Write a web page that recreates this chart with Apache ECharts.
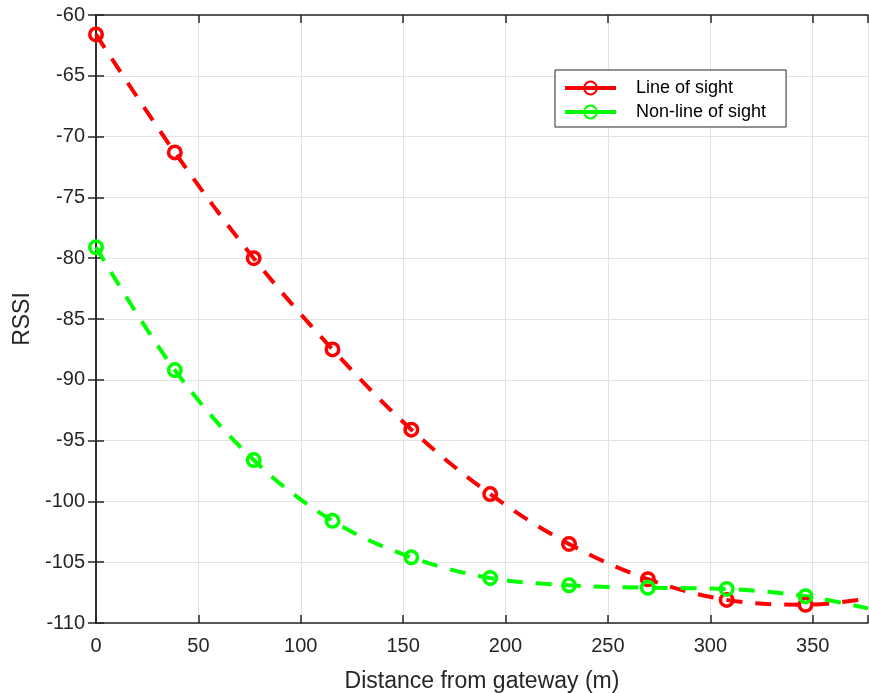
<!DOCTYPE html>
<html><head><meta charset="utf-8">
<script src="https://cdn.jsdelivr.net/npm/echarts@6/dist/echarts.min.js"></script>
<style>html,body{margin:0;padding:0;background:#fff}#c{width:869px;height:693px}</style>
</head><body><div id="c"></div>
<script>
const distances = [0, 38.5, 77, 115.5, 154, 192.5, 231, 269.5, 308, 346.5];
const losRssi = [-61.6, -71.3, -80.0, -87.5, -94.1, -99.4, -103.5, -106.4, -108.1, -108.5];
const nlosRssi = [-79.1, -89.2, -96.6, -101.6, -104.6, -106.3, -106.9, -107.1, -107.2, -107.8];
const curveEndX = 377;
const losEnd = -108.0;
const nlosEnd = -108.8;
const seriesNames = ['Line of sight', 'Non-line of sight'];
const xTicks = [0, 50, 100, 150, 200, 250, 300, 350];

const FONT = 'Liberation Sans, Arial, Helvetica, sans-serif';
const AX = '#262626';

function buildData(ys, endY) {
  const d = distances.map((x, i) => [x, ys[i]]);
  d.push({ value: [curveEndX, endY], symbol: 'none' });
  return d;
}
function mkSeries(name, color, ys, endY) {
  return {
    name, type: 'line', smooth: 0.35,
    data: buildData(ys, endY),
    symbol: 'circle', symbolSize: 12.5,
    lineStyle: { color, width: 4, type: [16, 13] },
    itemStyle: { color: 'rgba(0,0,0,0)', borderColor: color, borderWidth: 3.5 },
    emphasis: { disabled: true },
    z: 3
  };
}
const chart = echarts.init(document.getElementById('c'));
chart.setOption({
  animation: false,
  backgroundColor: '#fff',
  grid: { left: 96, right: 1, top: 15, bottom: 70, containLabel: false, outerBoundsMode: 'none' },
  legend: {
    orient: 'vertical', left: 555, top: 70,
    data: seriesNames,
    backgroundColor: '#fff', borderColor: AX, borderWidth: 1,
    padding: [9, 20, 6, 8], itemGap: 6, itemWidth: 51, itemHeight: 16,
    lineStyle: { type: 'solid', width: 4 },
    textStyle: { fontFamily: FONT, fontSize: 18, lineHeight: 18, color: '#000', padding: [0, 0, 0, 15] }
  },
  xAxis: [{
    type: 'value', min: 0, max: curveEndX, interval: 50,
    name: 'Distance from gateway (m)', nameLocation: 'middle', nameGap: 47,
    nameTextStyle: { fontFamily: FONT, fontSize: 23, color: AX },
    axisLine: { onZero: false, lineStyle: { color: AX, width: 1.5 } },
    axisTick: { inside: true, length: 8, lineStyle: { color: AX, width: 1.5 } },
    axisLabel: { fontFamily: FONT, fontSize: 20, color: AX, margin: 13,
      formatter: v => xTicks.includes(v) ? String(v) : '' },
    splitLine: { show: true, lineStyle: { color: '#e2e2e2', width: 1 } }
  }, {
    type: 'value', position: 'top', min: 0, max: curveEndX, interval: 50,
    axisLine: { show: true, lineStyle: { color: AX, width: 1.5 } },
    axisTick: { inside: true, length: 8, lineStyle: { color: AX, width: 1.5 } },
    axisLabel: { show: false }, splitLine: { show: false }
  }],
  yAxis: [{
    type: 'value', min: -110, max: -60, interval: 5,
    name: 'RSSI', nameLocation: 'middle', nameGap: 62, nameRotate: 90,
    nameTextStyle: { fontFamily: FONT, fontSize: 23, color: AX },
    axisLine: { show: true, onZero: false, lineStyle: { color: AX, width: 1.5 } },
    axisTick: { show: true, inside: true, length: 8, lineStyle: { color: AX, width: 1.5 } },
    axisLabel: { fontFamily: FONT, fontSize: 20, color: AX, margin: 11 },
    splitLine: { show: true, lineStyle: { color: '#e2e2e2', width: 1 } }
  }, {
    type: 'value', position: 'right', min: -110, max: -60, interval: 5,
    axisLine: { show: true, lineStyle: { color: AX, width: 1.5 } },
    axisTick: { show: true, inside: true, length: 8, lineStyle: { color: AX, width: 1.5 } },
    axisLabel: { show: false }, splitLine: { show: false }
  }],
  series: [
    mkSeries(seriesNames[0], '#ff0000', losRssi, losEnd),
    mkSeries(seriesNames[1], '#00ff00', nlosRssi, nlosEnd)
  ]
});
</script></body></html>
